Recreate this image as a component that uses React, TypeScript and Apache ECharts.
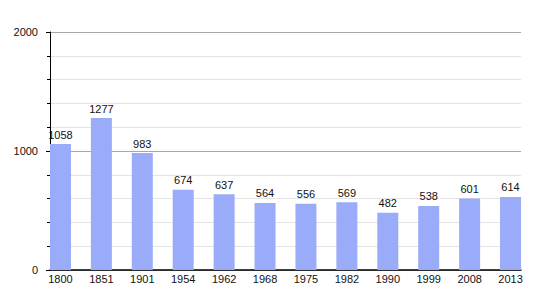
import React, { useEffect, useRef } from "react";
import * as echarts from "echarts";

const years = ["1800", "1851", "1901", "1954", "1962", "1968", "1975", "1982", "1990", "1999", "2008", "2013"];
const population = [1058, 1277, 983, 674, 637, 564, 556, 569, 482, 538, 601, 614];
const yTicks = [0, 1000, 2000];

export default function App() {
  const ref = useRef<HTMLDivElement>(null);
  useEffect(() => {
    document.body.style.margin = "0";
    const chart = echarts.init(ref.current!, null, { renderer: "svg" });
    const font = "Liberation Sans, Arial, sans-serif";
    chart.setOption({
      animation: false,
      grid: [
        { left: 40, right: 19, top: 32, bottom: 30, containLabel: false },
        { left: 50, right: 29, top: 32, bottom: 30, containLabel: false },
      ],
      xAxis: [
        {
          type: "category",
          gridIndex: 0,
          data: years,
          axisLine: { show: false },
          axisTick: { show: false },
          axisLabel: { margin: 3, color: "#111", fontSize: 11, fontFamily: font },
        },
        {
          type: "category",
          gridIndex: 1,
          data: years,
          axisLine: { show: true, lineStyle: { color: "#000", width: 1.5 } },
          axisTick: { show: false },
          axisLabel: { show: false },
        },
      ],
      yAxis: [
        { type: "value", gridIndex: 0, min: 0, max: 2000, show: false },
        {
          type: "value",
          gridIndex: 1,
          min: yTicks[0],
          max: yTicks[yTicks.length - 1],
          interval: 1000,
          axisLine: { show: true, lineStyle: { color: "#000", width: 1 } },
          axisTick: { show: true, length: 4, lineStyle: { color: "#000" } },
          minorTick: { show: true, splitNumber: 5, length: 3, lineStyle: { color: "#000" } },
          splitLine: { show: true, lineStyle: { color: "#a8a8a8", width: 1 } },
          minorSplitLine: { show: true, lineStyle: { color: "#e4e4e4", width: 1 } },
          axisLabel: {
            margin: 12,
            color: "#111",
            fontSize: 11,
            fontFamily: font,
            formatter: (v: number) => String(v),
          },
        },
      ],
      series: [
        {
          type: "bar",
          xAxisIndex: 0,
          yAxisIndex: 0,
          data: population,
          barWidth: 21,
          z: 3,
          itemStyle: { color: "#99abf9" },
          label: {
            show: true,
            position: "top",
            distance: 4,
            color: "#111",
            fontSize: 11,
            fontFamily: font,
          },
        },
      ],
    });
    return () => chart.dispose();
  }, []);
  return <div ref={ref} style={{ width: 550, height: 300 }} />;
}
